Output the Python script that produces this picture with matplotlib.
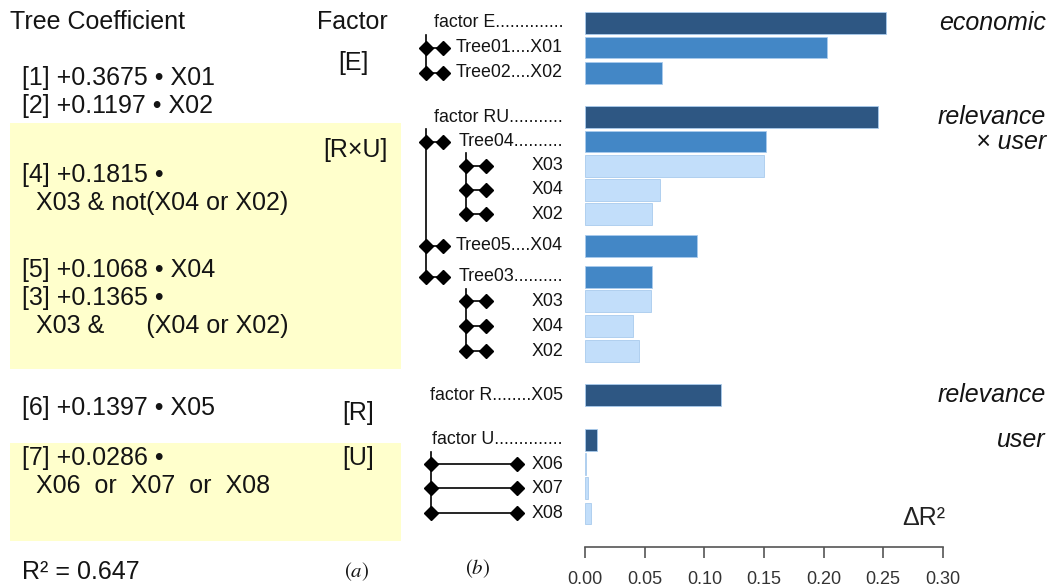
"""Tree coefficients (a) and Delta R^2 contribution of factors, trees and variables (b)."""
import numpy as np
from matplotlib import pyplot as plt
from matplotlib import transforms
from matplotlib.patches import Rectangle

plt.rcParams['font.family'] = ['Liberation Sans', 'DejaVu Sans']
plt.rcParams['mathtext.fontset'] = 'stix'

# ---- data -------------------------------------------------------------
bar_labels = ['factor E..............', 'Tree01....X01', 'Tree02....X02',
              'factor RU...........', 'Tree04..........', 'X03', 'X04', 'X02',
              'Tree05....X04', 'Tree03..........', 'X03', 'X04', 'X02',
              'factor R........X05', 'factor U..............',
              'X06', 'X07', 'X08']
bar_kind = ['factor', 'tree', 'tree',
            'factor', 'tree', 'var', 'var', 'var',
            'tree', 'tree', 'var', 'var', 'var',
            'factor', 'factor', 'var', 'var', 'var']
delta_r2 = [0.252, 0.203, 0.064,
            0.246, 0.152, 0.150, 0.063, 0.056,
            0.094, 0.056, 0.055, 0.040, 0.045,
            0.114, 0.010, 0.0006, 0.002, 0.005]
x_ticks = [0.00, 0.05, 0.10, 0.15, 0.20, 0.25, 0.30]

# tree brackets: member rows of each bracket
brackets = [[1, 2], [4, 8, 9], [5, 6, 7], [10, 11, 12], [15, 16, 17]]

factor_names = [('economic', 0), ('relevance', 3), ('\u00d7 user', 4),
                ('relevance', 13), ('user', 14)]

coef_lines = [('[1] +0.3675 \u2022 X01', 78), ('[2] +0.1197 \u2022 X02', 106),
              ('[4] +0.1815 \u2022', 175), ('  X03 & not(X04 or X02)', 203),
              ('[5] +0.1068 \u2022 X04', 270), ('[3] +0.1365 \u2022', 298),
              ('  X03 &      (X04 or X02)', 326),
              ('[6] +0.1397 \u2022 X05', 408),
              ('[7] +0.0286 \u2022', 458), ('  X06  or  X07  or  X08', 486),
              ('R\u00b2 = 0.647', 572)]
factor_tags = [('[E]', 353, 63), ('[R\u00d7U]', 355, 150), ('[R]', 358, 413),
               ('[U]', 358, 458)]

# ---- layout -----------------------------------------------------------
W, H = 1054, 588
row_pos = [0, 1.01, 2.03,
           3.85, 4.83, 5.81, 6.80, 7.78,
           9.06, 10.33, 11.32, 12.34, 13.35,
           15.15, 16.96, 17.94, 18.93, 19.95]
row_px0, row_step = 22.7, 24.6      # pixel y of row 0, pixels per row
axis_px = 547                        # pixel y of the x axis line
x0_px, x30_px = 585.3, 942.7         # pixel x of 0.00 and 0.30
bracket_x = [(426, 443), (426, 443), (466, 486), (466, 486), (431, 517)]
colors = {'factor': '#2e5783', 'tree': '#4387c6', 'var': '#c2defa'}
text_color = '#141414'

fig = plt.figure(figsize=(W / 100, H / 100), dpi=100)

page = fig.add_axes([0, 0, 1, 1])
page.set_xlim(0, W)
page.set_ylim(H, 0)
page.axis('off')

# yellow boxes for the R x U and U factors
page.add_patch(Rectangle((9.5, 123), 391.5, 245.5, color='#ffffcc', lw=0))
page.add_patch(Rectangle((9.5, 443), 391.5, 98, color='#ffffcc', lw=0))

page.text(10, 22, 'Tree Coefficient', fontsize=18, va='center', color=text_color)
page.text(388, 22, 'Factor', fontsize=18, va='center', ha='right', color=text_color)
for txt, y in coef_lines:
    page.text(22, y, txt, fontsize=18, va='center', color=text_color)
for txt, x, y in factor_tags:
    page.text(x, y, txt, fontsize=18, va='center', ha='center', color=text_color)
page.text(357, 572, '$(a)$', fontsize=15, ha='center', va='center', color=text_color)
page.text(478, 569, '$(b)$', fontsize=15, ha='center', va='center', color=text_color)

# ---- bar panel --------------------------------------------------------
ax = fig.add_axes([x0_px / W, (H - axis_px) / H, (x30_px - x0_px) / W, axis_px / H])
ax.patch.set_alpha(0)
ax.set_xlim(0, 0.30)
ax.set_ylim((axis_px - row_px0) / row_step, -row_px0 / row_step)

ax.barh(row_pos, delta_r2, height=0.89, color=[colors[k] for k in bar_kind],
        edgecolor='#a9cbed', linewidth=0.6)

for side in ['top', 'right', 'left']:
    ax.spines[side].set_visible(False)
ax.spines['bottom'].set_color('#555555')
ax.spines['bottom'].set_linewidth(1.2)
ax.set_yticks([])
ax.set_xticks(x_ticks)
ax.set_xticklabels(['{:.2f}'.format(t) for t in x_ticks])
ax.tick_params(axis='x', direction='out', length=8, width=1.2, color='#555555',
               labelsize=13, labelcolor='#333333', pad=9)

# x in page pixels, y in bar rows
blend = transforms.blended_transform_factory(page.transData, ax.transData)

for lab, y in zip(bar_labels, row_pos):
    ax.text(563, y, lab, transform=blend, ha='right', va='center',
            fontsize=12.8, color=text_color, clip_on=False)

for members, (xl, xr) in zip(brackets, bracket_x):
    ys = [row_pos[i] for i in members]
    ax.plot([xl, xl], [ys[0] - 0.5, ys[-1]], transform=blend, color='black',
            lw=1.2, clip_on=False)
    for y in ys:
        ax.plot([xl, xr], [y, y], transform=blend, color='black', lw=1.2,
                marker='D', markersize=7, clip_on=False)

for name, i in factor_names:
    ax.text(1046, row_pos[i], name, transform=blend, ha='right', va='center',
            fontsize=18, style='italic', color=text_color, clip_on=False)

ax.text(945, 518, '\u0394R\u00b2', transform=page.transData, ha='right', va='center',
        fontsize=18, color='#222222')

plt.savefig('out.png', dpi=100)
